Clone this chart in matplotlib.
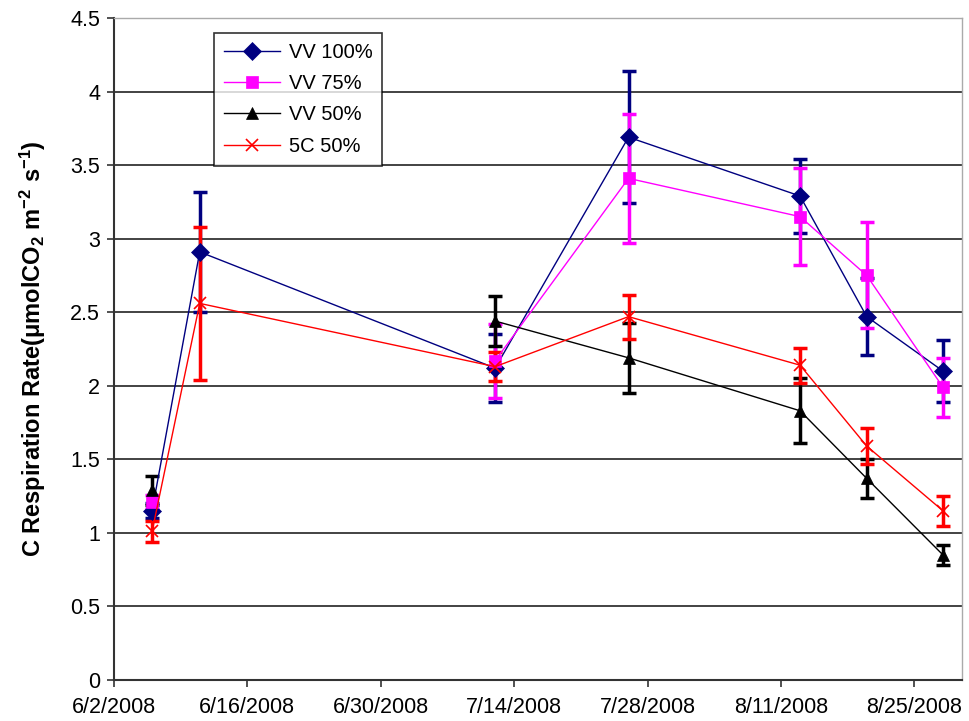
import numpy as np
import matplotlib
matplotlib.use("Agg")
import matplotlib.pyplot as plt
import matplotlib.dates as mdates
from datetime import datetime, timedelta

plt.rcParams['font.family'] = ['Liberation Sans', 'DejaVu Sans']
plt.rcParams['mathtext.default'] = 'regular'

# sampling dates
dates = ["2008-06-06", "2008-06-11", "2008-07-12", "2008-07-26",
         "2008-08-13", "2008-08-20", "2008-08-28"]

# respiration rate and standard error per treatment (nan = not sampled)
vv100 = [1.15, 2.91, 2.12, 3.69, 3.29, 2.47, 2.10]
vv100_err = [0.05, 0.41, 0.23, 0.45, 0.25, 0.26, 0.21]
vv75 = [1.21, np.nan, 2.17, 3.41, 3.15, 2.75, 1.99]
vv75_err = [0.05, np.nan, 0.25, 0.44, 0.33, 0.36, 0.20]
vv50 = [1.29, np.nan, 2.44, 2.19, 1.83, 1.37, 0.85]
vv50_err = [0.10, np.nan, 0.17, 0.24, 0.22, 0.13, 0.07]
c5_50 = [1.01, 2.56, 2.13, 2.47, 2.14, 1.59, 1.15]
c5_50_err = [0.07, 0.52, 0.10, 0.15, 0.12, 0.12, 0.10]

x = [datetime.strptime(d, "%Y-%m-%d") for d in dates]

fig = plt.figure(figsize=(9.69, 7.21), dpi=100)
ax = fig.add_axes([0.1176, 0.0569, 0.8752, 0.9181])

series = [
    ("VV 100%", vv100, vv100_err, "#000080", "D", 9),
    ("VV 75%", vv75, vv75_err, "#FF00FF", "s", 8),
    ("VV 50%", vv50, vv50_err, "black", "^", 9),
    ("5C 50%", c5_50, c5_50_err, "red", "x", 9),
]

for name, y, err, col, mk, ms in series:
    ax.errorbar(x, y, yerr=err, fmt='none', ecolor=col, elinewidth=2.5,
                capsize=5, capthick=2.5, zorder=2)
    ax.plot(x, y, color=col, lw=1, marker=mk, markersize=ms,
            markeredgewidth=1.2 if mk == "x" else 0.5,
            markeredgecolor=col, markerfacecolor=col, label=name, zorder=3)

start = datetime(2008, 6, 2)
ax.set_xlim(start, datetime(2008, 8, 30))
ax.set_ylim(0, 4.5)
ax.set_xticks([start + timedelta(days=14 * i) for i in range(7)])
ax.xaxis.set_major_formatter(plt.FuncFormatter(
    lambda v, p: "{d.month}/{d.day}/{d.year}".format(d=mdates.num2date(v))))
ax.set_yticks(np.arange(0, 4.51, 0.5))
ax.set_yticklabels(["0", "0.5", "1", "1.5", "2", "2.5", "3", "3.5", "4", "4.5"])
ax.tick_params(axis='both', labelsize=15.5, direction='out', length=5, width=1.2,
               color='#333333')
ax.tick_params(axis='x', pad=7)
ax.tick_params(axis='y', pad=5)

ax.grid(axis='y', color='#222222', lw=1.2)
ax.set_axisbelow(True)
for s in ['left', 'bottom']:
    ax.spines[s].set_color('#333333')
    ax.spines[s].set_linewidth(1.5)
for s in ['top', 'right']:
    ax.spines[s].set_color('#aaaaaa')
    ax.spines[s].set_linewidth(1)

ax.set_ylabel(r'C Respiration Rate($\mu$molCO$_2$ m$^{-2}$ s$^{-1}$)',
              fontsize=17, fontweight='bold', labelpad=16)

leg = ax.legend(loc='upper left', bbox_to_anchor=(0.118, 0.977), fontsize=14.5,
                frameon=True, fancybox=False, edgecolor='black',
                borderaxespad=0, borderpad=0.5, labelspacing=0.6,
                handlelength=2.8, handletextpad=0.4)
leg.get_frame().set_linewidth(1.2)

plt.savefig("out.png", dpi=100)
